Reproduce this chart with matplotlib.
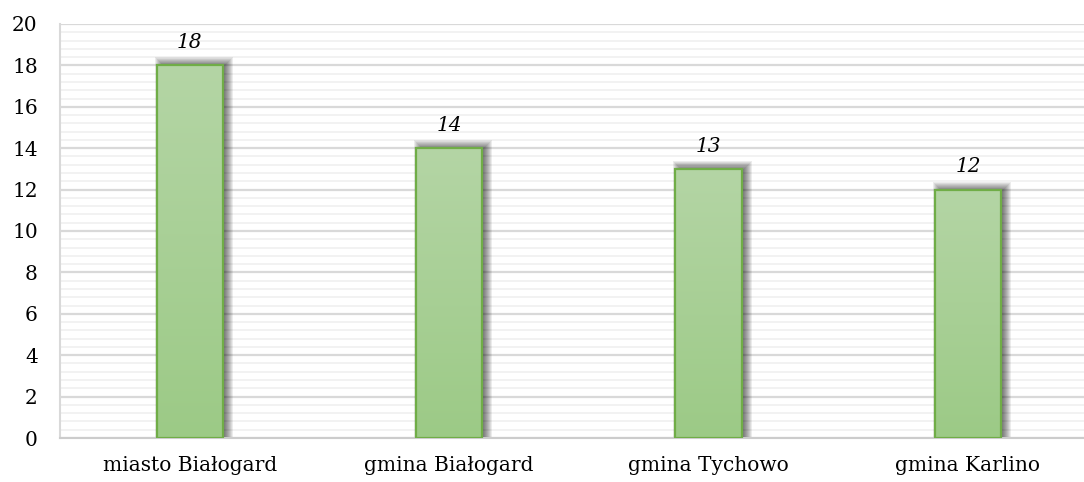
import numpy as np
import matplotlib.pyplot as plt
from matplotlib.patches import Rectangle
from matplotlib.colors import LinearSegmentedColormap

# data
categories = ['miasto Białogard', 'gmina Białogard', 'gmina Tychowo', 'gmina Karlino']
values = [18, 14, 13, 12]
y_ticks = list(range(0, 21, 2))

plt.rcParams['font.family'] = ['DejaVu Serif', 'DejaVu Sans']

W, H = 1084, 482
fig = plt.figure(figsize=(W / 100, H / 100), dpi=100)
# plot area runs past the right edge (chart was cropped)
ax = fig.add_axes([60 / W, (H - 438) / H, 1037.6 / W, (438 - 24) / H])

# pixel sizes in data units
px_x = 1 / 259.4
px_y = 20 / 414

bar_w = 0.255
green = LinearSegmentedColormap.from_list('g', ['#9cca86', '#b4d5a5'])
grad = np.linspace(0, 1, 256).reshape(-1, 1)

for i, v in enumerate(values):
    x0 = i - bar_w / 2
    # blurred drop shadow, shifted right and a bit up
    sx, sy = 4 * px_x, 2 * px_y
    for k in range(-3, 7):
        ex = k * px_x
        ey = k * px_y
        ax.add_patch(Rectangle((x0 + sx - ex, 0), bar_w + 2 * ex, v + sy + ey,
                               facecolor='black', edgecolor='none', alpha=0.075, zorder=2))
    ax.imshow(grad, cmap=green, origin='lower', aspect='auto',
              extent=[x0, x0 + bar_w, 0, v], zorder=3)
    ax.add_patch(Rectangle((x0, 0), bar_w, v, facecolor='none',
                           edgecolor='#70ad47', linewidth=1.6, zorder=4))
    ax.text(i, v + 1.1, str(v), ha='center', va='center', style='italic',
            fontsize=14.5, color='black', zorder=5)

ax.set_xlim(-0.5, len(categories) - 0.5)
ax.set_ylim(0, 20)

ax.set_xticks(range(len(categories)))
ax.set_xticklabels(categories)
ax.set_yticks(y_ticks)
ax.set_yticks(np.arange(0, 20.01, 0.4), minor=True)
ax.tick_params(axis='both', which='both', length=0, labelsize=14.5)
ax.tick_params(axis='x', pad=13)
ax.tick_params(axis='y', pad=16)

ax.yaxis.grid(True, which='major', color='#d9d9d9', linewidth=1.6, zorder=0)
ax.yaxis.grid(True, which='minor', color='#f0f0f0', linewidth=1.2, zorder=0)
ax.set_axisbelow(True)

for s in ['top', 'right']:
    ax.spines[s].set_visible(False)
ax.spines['left'].set_color('#d9d9d9')
ax.spines['left'].set_linewidth(1.5)
ax.spines['bottom'].set_color('#cccccc')
ax.spines['bottom'].set_linewidth(1.5)

fig.savefig('out.png', dpi=100)
